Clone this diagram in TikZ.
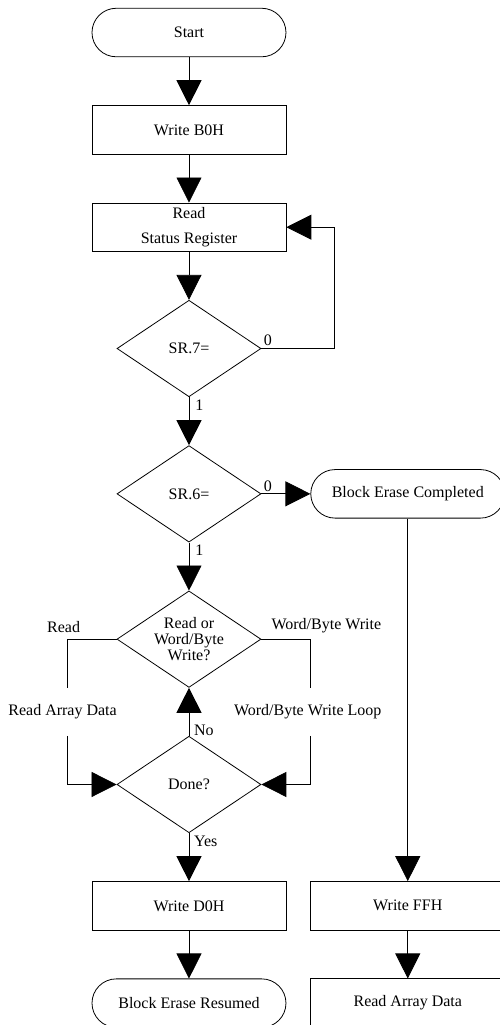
\documentclass[tikz,border=0pt]{standalone}
\usepackage{fontspec}
\setmainfont{Liberation Serif}
\usepackage{tikz}
\usetikzlibrary{positioning,shapes.geometric,arrows.meta,calc}

\tikzset{
  every node/.style={font=\fontsize{12}{14}\selectfont},
  proc/.style={draw, rectangle, minimum width=145.5pt, minimum height=36.4pt, inner sep=0pt},
  term/.style={proc, rounded corners=18.2pt},
  decision/.style={draw, diamond, aspect=1.5, minimum width=108pt, minimum height=72.4pt, inner sep=0pt, align=center},
  flow/.style={-{Triangle[length=18.75pt,width=18.75pt]}},
  lbl/.style={inner sep=1.5pt}
}

\begin{document}
\begin{tikzpicture}[node distance=36pt, line width=0.6pt]
    \useasboundingbox (-141.75pt,24.4pt) rectangle (233.25pt,-744.4pt);

    % Define nodes
    \node[term]                     (start)  {Start};
    \node[proc, below = of start]   (wb0)    {Write B0H};
    \node[proc, below = of wb0, align=center, font=\fontsize{12}{18.75}\selectfont] (rsr) {Read\\Status Register};
    \node[decision, below = of rsr] (sr7)    {SR.7=};
    \node[decision, below = of sr7] (sr6)    {SR.6=};
    \node[decision, below = of sr6, font=\fontsize{12}{12}\selectfont] (rw) {Read or\\Word/Byte\\Write?};
    \node[decision, below = of rw]  (done)   {Done?};
    \node[proc, below = of done]    (wd0)    {Write D0H};
    \node[term, below = of wd0]     (ber)    {Block Erase Resumed};
    \node[term, right = 36.75pt of sr6] (bec) {Block Erase Completed};
    \node[proc] (wff) at (bec |- wd0) {Write FFH};
    \node[proc, below = of wff]     (rad)    {Read Array Data};

    % Corner points
    \coordinate[left = 36.75pt of rw.west]   (lx);
    \coordinate[right = 36.75pt of rw.east]  (rx);
    \coordinate[right = 54.75pt of sr7.east] (sr7loop);

    % Connect nodes
    \draw[flow] (start) -- (wb0);
    \draw[flow] (wb0) -- (rsr);
    \draw[flow] (rsr) -- (sr7);
    \draw[flow] (sr7) -- (sr6);
    \draw[flow] (sr6) -- (rw);
    \draw[flow] (done) -- (rw);
    \draw[flow] (done) -- (wd0);
    \draw[flow] (wd0) -- (ber);
    \draw[flow] (sr6) -- (bec);
    \draw[flow] (bec) -- (wff);
    \draw[flow] (wff) -- (rad);
    \draw[flow] (sr7.east) -- (sr7loop) |- (rsr.east);
    \draw (rw.west) -| (lx |- rw.south);
    \draw[flow] (lx |- done.north) |- (done.west);
    \draw (rw.east) -| (rx |- rw.south);
    \draw[flow] (rx |- done.north) |- (done.east);

    % Labels
    \node[lbl, above right] (sr7zero) at (sr7.east) {0};
    \node[lbl, below right, xshift=3pt] (sr7one) at (sr7.south) {1};
    \node[lbl, above right] (sr6zero) at (sr6.east) {0};
    \node[lbl, below right, xshift=3pt] (sr6one) at (sr6.south) {1};
    \node[lbl, above right, xshift=2pt, inner ysep=0pt] (nolbl) at (done.north) {No};
    \node[lbl, below right, xshift=2pt] (yeslbl) at (done.south) {Yes};
    \node[lbl, above, xshift=-3pt, yshift=3pt] (readlbl) at (lx) {Read};
    \node[lbl, above, xshift=12pt, yshift=3pt] (writelbl) at (rx) {Word/Byte Write};
    \node[xshift=-3.75pt] (readloop) at ($(lx |- rw.south)!0.5!(lx |- done.north)$) {Read Array Data};
    \node[xshift=-2pt] (writeloop) at ($(rx |- rw.south)!0.5!(rx |- done.north)$) {Word/Byte Write Loop};
\end{tikzpicture}
\end{document}
